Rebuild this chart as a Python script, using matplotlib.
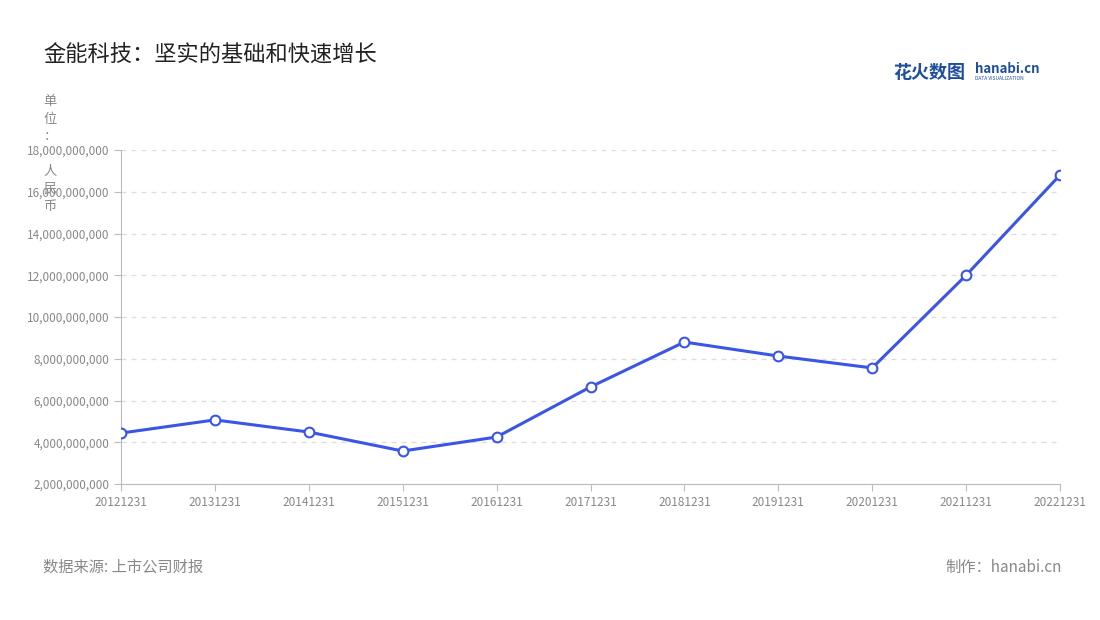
import matplotlib
matplotlib.use('Agg')
import matplotlib.pyplot as plt
from matplotlib.ticker import FuncFormatter, MultipleLocator

plt.rcParams['font.family'] = ['Noto Sans CJK SC', 'DejaVu Sans']

years = ['20121231','20131231','20141231','20151231','20161231','20171231',
         '20181231','20191231','20201231','20211231','20221231']
values = [4.44e9,5.07e9,4.49e9,3.58e9,4.25e9,6.65e9,8.80e9,8.13e9,7.56e9,12.0e9,16.8e9]

fig = plt.figure(figsize=(11,6.2), dpi=100)
ax = fig.add_axes([121/1100, 1-484/620, (1060-121)/1100, (484-150)/620])
x = list(range(len(years)))
ax.plot(x, values, color='#3b55e6', lw=2.2, marker='o', ms=7,
        mfc='white', mec='#3b55e6', mew=1.5, zorder=3)
ax.set_xlim(0, len(years)-1)
ax.set_ylim(2e9, 18e9)
ax.yaxis.set_major_locator(MultipleLocator(2e9))
ax.yaxis.set_major_formatter(FuncFormatter(lambda v,p: f'{int(round(v)):,}'))
ax.set_xticks(x)
ax.set_xticklabels(years)
ax.grid(axis='y', ls=(0,(4,4)), color='#dddddd', lw=0.9)
for s in ['top','right']:
    ax.spines[s].set_visible(False)
for s in ['left','bottom']:
    ax.spines[s].set_color('#bbbbbb')
ax.tick_params(colors='#bbbbbb', labelcolor='#888888', labelsize=8.5, length=5)

fig.text(43/1100, 1-55/620, '金能科技：坚实的基础和快速增长', fontsize=16, color='#222222', va='center')
fig.text(50/1100, 1-95/620, '单\n位\n：\n\n人\n民\n币', fontsize=9.5, color='#888888',
         va='top', ha='center', linespacing=1.45)
fig.text(43/1100, 1-567/620, '数据来源: 上市公司财报', fontsize=11, color='#888888', va='center')
fig.text(1062/1100, 1-567/620, '制作：hanabi.cn', fontsize=11, color='#888888', va='center', ha='right')
fig.text(893/1100, 1-72/620, '花火数图', fontsize=13, color='#1f4e9c', va='center', fontweight='bold')
fig.text(975/1100, 1-69/620, 'hanabi.cn', fontsize=9.5, color='#1f4e9c', va='center', fontweight='bold')
fig.text(975/1100, 1-79/620, 'DATA VISUALIZATION', fontsize=3.5, color='#1f4e9c', va='center')
fig.savefig('out.png', dpi=100)
